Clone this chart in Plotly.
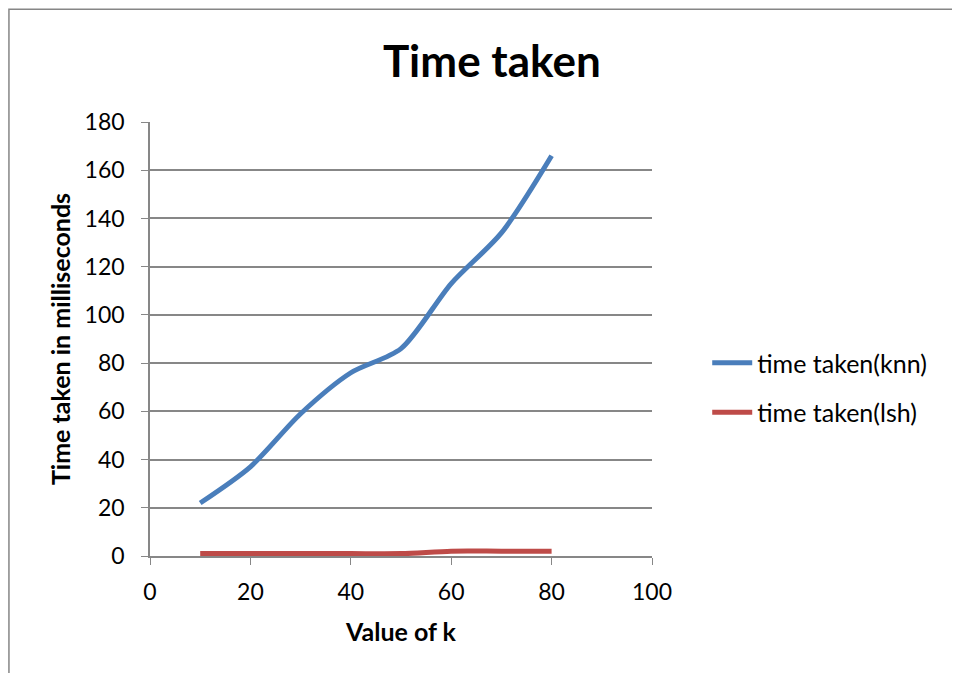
import plotly.graph_objects as go

k_values = [10, 20, 30, 40, 50, 60, 70, 80]
knn_time = [22, 37, 59, 76, 86, 113, 134, 166]
lsh_time = [1, 1, 1, 1, 1, 2, 2, 2]
series_names = ["time taken(knn)", "time taken(lsh)"]

FONT = "Lato, 'Open Sans', sans-serif"
GRID = "#878787"

fig = go.Figure()
fig.add_trace(go.Scatter(x=k_values, y=knn_time, mode="lines", name=series_names[0], legendgroup="a",
                         line=dict(color="#4A7EBB", width=5, shape="spline", smoothing=0.8)))
fig.add_trace(go.Scatter(x=k_values, y=lsh_time, mode="lines", name=series_names[1], legendgroup="b",
                         line=dict(color="#BE4B48", width=5, shape="spline", smoothing=0.8)))

fig.update_layout(
    width=960, height=673,
    margin=dict(l=142, r=316, t=114, b=125),
    paper_bgcolor="white", plot_bgcolor="white",
    font=dict(family=FONT, color="black", size=23),
    title=dict(text="<b>Time taken</b>", x=0.504, xanchor="center", y=0.92, yanchor="middle",
               font=dict(size=44, family=FONT)),
    legend=dict(x=1.11, y=0.388, xanchor="left", yanchor="middle",
                font=dict(size=25), tracegroupgap=14, itemwidth=40),
    xaxis=dict(range=[0, 100], dtick=20, showgrid=False, showline=True, linecolor=GRID,
               linewidth=1.5, ticks="outside", ticklen=7, tickcolor=GRID, zeroline=False,
               ticklabelstandoff=8,
               title=dict(text="<b>Value of k</b>", font=dict(size=25), standoff=19),
               tickfont=dict(size=23)),
    yaxis=dict(range=[0, 180], dtick=20, showgrid=True, gridcolor=GRID, gridwidth=1.5,
               showline=True, linecolor=GRID, linewidth=1.5, ticks="outside", ticklen=7,
               tickcolor=GRID, zeroline=False, ticklabelstandoff=12,
               title=dict(text="<b>Time taken in milliseconds</b>", font=dict(size=25), standoff=7),
               tickfont=dict(size=23)),
    shapes=[dict(type="rect", xref="paper", yref="paper", x0=-0.281, x1=1.8, y0=-0.5, y1=1.260,
                 line=dict(color="#868686", width=1.5), fillcolor="rgba(0,0,0,0)", layer="below")],
)

fig.write_html("out.html")
